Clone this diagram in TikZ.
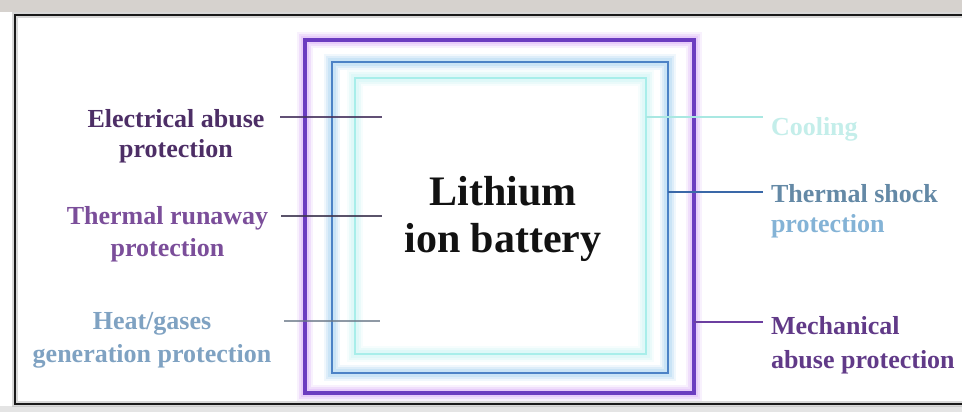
\documentclass[tikz,border=0pt]{standalone}
\usepackage{fontspec}
\setmainfont{Liberation Serif}
\definecolor{bandgray}{HTML}{D6D2CE}
\definecolor{bottomgray}{HTML}{E4E4E4}
\definecolor{purpleL}{HTML}{6B3CC0}
\definecolor{purpleG}{HTML}{E6C8FA}
\definecolor{blueL}{HTML}{4C82C6}
\definecolor{blueG}{HTML}{C6E2F6}
\definecolor{cyanL}{HTML}{A8EEEA}
\definecolor{cyanG}{HTML}{DDF8F8}
\definecolor{eaC}{HTML}{4D2E66}
\definecolor{eaLine}{HTML}{46325E}
\definecolor{trC}{HTML}{7B4E9A}
\definecolor{trLine}{HTML}{3E3550}
\definecolor{hgC}{HTML}{7FA2C2}
\definecolor{hgLine}{HTML}{6A7888}
\definecolor{coolC}{HTML}{C4EEEA}
\definecolor{coolLine}{HTML}{A9E8E2}
\definecolor{tsA}{HTML}{6489A6}
\definecolor{tsB}{HTML}{84B3D6}
\definecolor{tsLine}{HTML}{3A68A8}
\definecolor{meC}{HTML}{613A88}
\definecolor{meLine}{HTML}{6C3FA0}
\begin{document}
\begin{tikzpicture}[x=1pt,y=-1pt,
  sqr/.style={inner sep=0pt, outer sep=0pt},
  lbl/.style={inner sep=0pt, outer sep=0pt, font=\bfseries\fontsize{26}{32}\selectfont},
  conn/.style={line width=1.6pt}]
\useasboundingbox (0,0) rectangle (962,412);
\fill[white] (0,0) rectangle (962,412);
\fill[bandgray] (0,0) rectangle (962,12);
\fill[bottomgray] (0,406) rectangle (962,412);
% frame
\draw[black!30, line width=6pt, opacity=0.5] (15,15) rectangle (980,404);
\draw[black!90, line width=2.8pt] (15,15) rectangle (980,404);
% squares
\node[sqr, minimum width=389pt, minimum height=353pt] (outer) at (499.5,216.5) {};
\node[sqr, minimum width=336pt, minimum height=311pt] (mid) at (500,217.5) {};
\node[sqr, minimum width=291pt, minimum height=276pt] (inner) at (500.5,216) {};
\foreach \w/\o in {16/0.25,12/0.45,8/0.8}{
  \draw[purpleG, line width=\w pt, opacity=\o] (outer.north west) rectangle (outer.south east);
  \draw[blueG, line width=\w pt, opacity=\o] (mid.north west) rectangle (mid.south east);
  \draw[cyanG, line width=\w pt, opacity=\o] (inner.north west) rectangle (inner.south east);
}
\draw[purpleL, line width=3.5pt] (outer.north west) rectangle (outer.south east);
\draw[blueL, line width=2.5pt] (mid.north west) rectangle (mid.south east);
\draw[cyanL, line width=2.5pt] (inner.north west) rectangle (inner.south east);
% central title
\node[inner sep=0pt, anchor=north, align=center, text=black!93,
  font=\bfseries\fontsize{42}{47}\selectfont] (title) at (503,176) {Lithium\\ion battery};
% left labels
\node[lbl, anchor=north, align=center, text=eaC, font=\bfseries\fontsize{26}{30}\selectfont] (ea) at (176,109) {Electrical abuse\\protection};
\node[lbl, anchor=north, align=center, text=trC] (tr) at (167.5,206.4) {Thermal runaway\\protection};
\node[lbl, anchor=north, align=center, text=hgC, font=\bfseries\fontsize{26}{33}\selectfont] (hg) at (152,312) {Heat/gases\\generation protection};
% right labels
\node[lbl, anchor=north west, align=left, text=coolC] (cool) at (771,117) {Cooling};
\node[lbl, anchor=north west, align=left, text=tsA, font=\bfseries\fontsize{26}{30}\selectfont] (ts) at (771,184.4) {Thermal shock\\\textcolor{tsB}{protection}};
\node[lbl, anchor=north west, align=left, text=meC, font=\bfseries\fontsize{26}{34}\selectfont] (me) at (771,316) {Mechanical\\abuse protection};
% connector end points
\coordinate (ea1) at (280,117);
\coordinate (ea2) at (382,117);
\coordinate (tr1) at (281,216);
\coordinate (tr2) at (382,216);
\coordinate (hg1) at (284,321);
\coordinate (hg2) at (380,321);
\coordinate (cool1) at (763,117);
\coordinate (ts1) at (763,192);
\coordinate (me1) at (763,322);
% connectors
\draw[conn, eaLine, opacity=0.85] (ea1) -- (ea2);
\draw[conn, trLine, opacity=0.85] (tr1) -- (tr2);
\draw[conn, hgLine, opacity=0.75] (hg1) -- (hg2);
\draw[conn, coolLine] (inner.east |- cool1) -- (cool1);
\draw[conn, tsLine] (mid.east |- ts1) -- (ts1);
\draw[conn, meLine] (outer.east |- me1) -- (me1);
\end{tikzpicture}
\end{document}
